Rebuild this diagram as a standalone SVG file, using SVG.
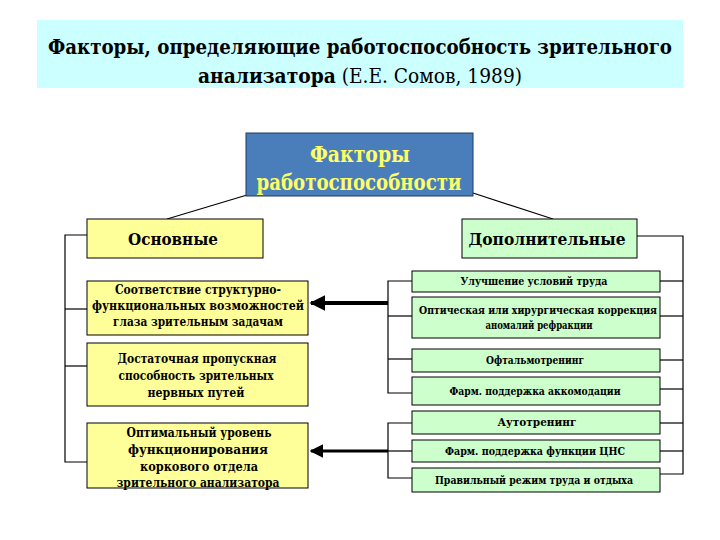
<svg xmlns="http://www.w3.org/2000/svg" width="720" height="540" viewBox="0 0 720 540">
<style>
text{font-family:'DejaVu Serif Condensed','DejaVu Serif',serif;font-stretch:condensed}
.t{font-weight:bold;text-anchor:middle;fill:#000}
.y{fill:#FFFF99;stroke:#000;stroke-width:1}
.g{fill:#CCFFCC;stroke:#000;stroke-width:1}
.ln{stroke:#000;stroke-width:1.2;fill:none}
.s13{font-size:12.5px}
.s11{font-size:10.5px}
</style>
<defs>
<marker id="ah" viewBox="0 0 10 10" refX="9" refY="5" markerWidth="4" markerHeight="4" orient="auto" markerUnits="strokeWidth">
<path d="M0,0 L10,5 L0,10 z" fill="#000"/>
</marker>
<marker id="ah2" viewBox="0 0 10 10" refX="9" refY="5" markerWidth="4.5" markerHeight="4.5" orient="auto" markerUnits="strokeWidth">
<path d="M0,0 L10,5 L0,10 z" fill="#000"/>
</marker>
</defs>
<rect width="720" height="540" fill="#fff"/>
<g id="title">
<rect x="37" y="20" width="646" height="68" fill="#CCFFFF"/>
<text class="t" x="360" y="54" font-size="21" textLength="624" lengthAdjust="spacingAndGlyphs">Факторы, определяющие работоспособность зрительного</text>
<text class="t" x="360" y="83" font-size="21" textLength="324" lengthAdjust="spacingAndGlyphs">анализатора<tspan font-weight="normal"> (Е.Е. Сомов, 1989)</tspan></text>
</g>
<g id="connectors">
<line class="ln" x1="247" y1="195" x2="167" y2="219"/>
<line class="ln" x1="473" y1="193" x2="553" y2="219"/>
<polyline class="ln" points="87,235 65,235 65,462 87,462"/>
<line class="ln" x1="65" y1="309" x2="87" y2="309"/>
<line class="ln" x1="65" y1="366" x2="87" y2="366"/>
<polyline class="ln" points="637,236 683,236 683,474 660,474"/>
<line class="ln" x1="660" y1="281" x2="683" y2="281"/>
<line class="ln" x1="660" y1="316" x2="683" y2="316"/>
<line class="ln" x1="660" y1="360" x2="683" y2="360"/>
<line class="ln" x1="660" y1="389" x2="683" y2="389"/>
<line class="ln" x1="660" y1="423" x2="683" y2="423"/>
<line class="ln" x1="660" y1="451" x2="683" y2="451"/>
<polyline class="ln" points="412,281 388,281 388,393 412,393"/>
<line class="ln" x1="388" y1="316" x2="412" y2="316"/>
<line class="ln" x1="388" y1="359" x2="412" y2="359"/>
<polyline class="ln" points="412,423 388,423 388,478 412,478"/>
<line class="ln" x1="388" y1="451" x2="412" y2="451"/>
<line x1="388" y1="303" x2="311" y2="303" stroke="#000" stroke-width="4" marker-end="url(#ah)"/>
<line x1="388" y1="451" x2="311" y2="451" stroke="#000" stroke-width="3" marker-end="url(#ah2)"/>
</g>
<g id="root">
<rect x="246" y="133" width="227" height="63" fill="#4A7EBB" stroke="#1F3864" stroke-width="1"/>
<text class="t" x="360" y="162" font-size="22" textLength="100" lengthAdjust="spacingAndGlyphs" style="fill:#FFFF66">Факторы</text>
<text class="t" x="359" y="190" font-size="22" textLength="205" lengthAdjust="spacingAndGlyphs" style="fill:#FFFF66">работоспособности</text>
</g>
<g id="main">
<rect class="y" x="87" y="219" width="176" height="39"/>
<text class="t" x="173" y="245" font-size="17" textLength="90" lengthAdjust="spacingAndGlyphs">Основные</text>
</g>
<g id="extra">
<rect class="g" x="462" y="219" width="175" height="39"/>
<text class="t" x="547" y="245" font-size="17" textLength="157" lengthAdjust="spacingAndGlyphs">Дополнительные</text>
</g>
<g id="m1">
<rect class="y" x="87" y="281" width="221" height="54"/>
<text class="t s13" x="198" y="294" textLength="166" lengthAdjust="spacingAndGlyphs">Соответствие структурно-</text>
<text class="t s13" x="198" y="310" textLength="212" lengthAdjust="spacingAndGlyphs">функциональных возможностей</text>
<text class="t s13" x="198" y="326" textLength="170" lengthAdjust="spacingAndGlyphs">глаза зрительным задачам</text>
</g>
<g id="m2">
<rect class="y" x="87" y="343" width="221" height="63"/>
<text class="t s13" x="197" y="363" textLength="159" lengthAdjust="spacingAndGlyphs">Достаточная пропускная</text>
<text class="t s13" x="196" y="380" textLength="155" lengthAdjust="spacingAndGlyphs">способность зрительных</text>
<text class="t s13" x="196" y="397" textLength="97" lengthAdjust="spacingAndGlyphs">нервных путей</text>
</g>
<g id="m3">
<rect class="y" x="87" y="423" width="221" height="65"/>
<text class="t s13" x="199" y="437" textLength="145" lengthAdjust="spacingAndGlyphs">Оптимальный уровень</text>
<text class="t s13" x="198" y="454" textLength="140" lengthAdjust="spacingAndGlyphs">функционирования</text>
<text class="t s13" x="199" y="471" textLength="118" lengthAdjust="spacingAndGlyphs">коркового отдела</text>
<text class="t s13" x="198" y="487" textLength="163" lengthAdjust="spacingAndGlyphs">зрительного анализатора</text>
</g>
<g id="e1">
<rect class="g" x="412" y="271" width="248" height="21"/>
<text class="t s11" x="534" y="285" textLength="147" lengthAdjust="spacingAndGlyphs">Улучшение условий труда</text>
</g>
<g id="e2">
<rect class="g" x="412" y="297" width="248" height="41"/>
<text class="t s11" x="538" y="314" textLength="238" lengthAdjust="spacingAndGlyphs">Оптическая или хирургическая коррекция</text>
<text class="t s11" x="539" y="329" textLength="107" lengthAdjust="spacingAndGlyphs">аномалий рефракции</text>
</g>
<g id="e3">
<rect class="g" x="412" y="349" width="248" height="23"/>
<text class="t s11" x="535" y="364" textLength="98" lengthAdjust="spacingAndGlyphs">Офтальмотренинг</text>
</g>
<g id="e4">
<rect class="g" x="412" y="377" width="248" height="28"/>
<text class="t s11" x="535" y="395" textLength="171" lengthAdjust="spacingAndGlyphs">Фарм. поддержка аккомодации</text>
</g>
<g id="e5">
<rect class="g" x="412" y="411" width="248" height="23"/>
<text class="t s11" x="537" y="426" textLength="79" lengthAdjust="spacingAndGlyphs">Аутотренинг</text>
</g>
<g id="e6">
<rect class="g" x="412" y="440" width="248" height="22"/>
<text class="t s11" x="535" y="455" textLength="180" lengthAdjust="spacingAndGlyphs">Фарм. поддержка функции ЦНС</text>
</g>
<g id="e7">
<rect class="g" x="412" y="468" width="248" height="24"/>
<text class="t s11" x="534" y="484" textLength="198" lengthAdjust="spacingAndGlyphs">Правильный режим труда и отдыха</text>
</g>
</svg>
